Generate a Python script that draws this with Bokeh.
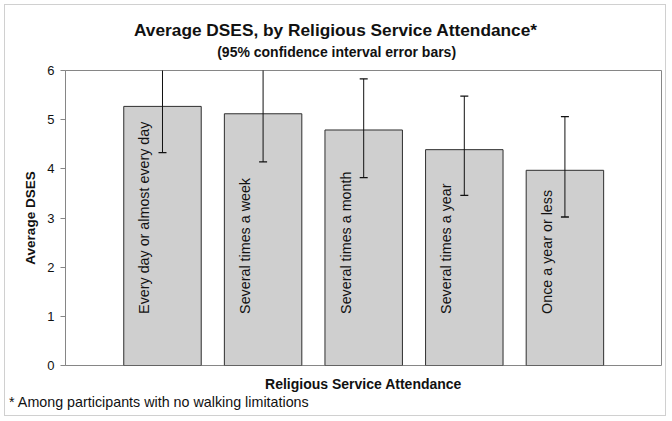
import math
from bokeh.plotting import figure
from bokeh.models import Range1d, FixedTicker, Title, ColumnDataSource
from bokeh.core.properties import value
from bokeh.embed import file_html
from bokeh.resources import INLINE

# ---- data ----
categories = [
    "Every day or almost every day",
    "Several times a week",
    "Several times a month",
    "Several times a year",
    "Once a year or less",
]
mean_dses = [5.27, 5.12, 4.79, 4.39, 3.97]
ci_lower = [4.33, 4.14, 3.82, 3.46, 3.02]
ci_upper = [6.21, 6.10, 5.83, 5.48, 5.06]
y_ticks = [0, 1, 2, 3, 4, 5, 6]

title_text = "Average DSES, by Religious Service Attendance*"
subtitle_text = "(95% confidence interval error bars)"
x_label_text = "Religious Service Attendance"
y_label_text = "Average DSES"
footnote_text = "* Among participants with no walking limitations"

FONT = "Liberation Sans"
LABEL_Y = 1.05

xpos = list(range(len(categories)))
src = ColumnDataSource(dict(x=xpos, top=mean_dses, lo=ci_lower, hi=ci_upper, cat=categories,
                            ly=[LABEL_Y] * len(categories)))

p = figure(width=662, height=412, output_backend="svg", toolbar_location=None,
           x_range=Range1d(-0.964, 4.96), y_range=Range1d(0, 6), tools="",
           x_axis_location=None,
           min_border_left=60, min_border_right=6, min_border_top=65, min_border_bottom=52)
p.styles = {"border": "1px solid #d0d0d0", "margin": "4px 0 0 4px"}
p.xgrid.visible = False
p.ygrid.visible = False
p.background_fill_color = "white"
p.border_fill_color = "white"
p.outline_line_color = "#868686"
p.outline_line_width = 1

# bars
p.vbar(x="x", top="top", bottom=0, width=0.77, source=src,
       fill_color="#cfcfcf", line_color="#2e2e2e", line_width=1)

# error bars
p.segment(x0="x", y0="lo", x1="x", y1="hi", source=src, line_color="#111111", line_width=1)
p.scatter(x="x", y="lo", source=src, marker="dash", size=8, line_color="#111111", line_width=1.3)
p.scatter(x="x", y="hi", source=src, marker="dash", size=8, line_color="#111111", line_width=1.3)

# category labels inside bars
p.text(x="x", y="ly", text="cat", source=src, angle=math.pi / 2, x_offset=-18,
       text_align="left", text_baseline="middle", text_font=value(FONT),
       text_font_size="14.3px", text_color="#111111")

# y axis
ax = p.yaxis[0]
ax.ticker = FixedTicker(ticks=y_ticks)
ax.minor_tick_line_color = None
ax.major_tick_out = 5
ax.major_tick_in = 0
ax.major_tick_line_color = "#868686"
ax.axis_line_color = "#868686"
ax.major_label_text_font = FONT
ax.major_label_text_font_size = "13px"
ax.major_label_text_color = "#111111"
ax.major_label_standoff = 6
ax.axis_label = y_label_text
ax.axis_label_text_font = FONT
ax.axis_label_text_font_size = "13.5px"
ax.axis_label_text_font_style = "bold"
ax.axis_label_text_color = "#111111"
ax.axis_label_standoff = 6

# titles above (spacer nearest the frame)
p.add_layout(Title(text=" ", text_font_size="1px", standoff=8), "above")
p.add_layout(Title(text=subtitle_text, align="left", offset=151.7, standoff=0,
                   text_font=FONT, text_font_size="14px", text_font_style="bold",
                   text_color="#111111"), "above")
p.add_layout(Title(text=title_text, align="left", offset=68.5, standoff=4,
                   text_font=FONT, text_font_size="17.3px", text_font_style="bold",
                   text_color="#111111"), "above")

# x-axis title and footnote below (spacer nearest the frame)
p.add_layout(Title(text=" ", text_font_size="1px", standoff=5), "below")
p.add_layout(Title(text=x_label_text, align="center", standoff=0,
                   text_font=FONT, text_font_size="14px", text_font_style="bold",
                   text_color="#111111"), "below")
p.add_layout(Title(text=footnote_text, align="left", offset=-56.4, standoff=0,
                   text_font=FONT, text_font_size="14.3px", text_font_style="normal",
                   text_color="#111111"), "below")

open("out.html", "w").write(file_html(p, INLINE))
